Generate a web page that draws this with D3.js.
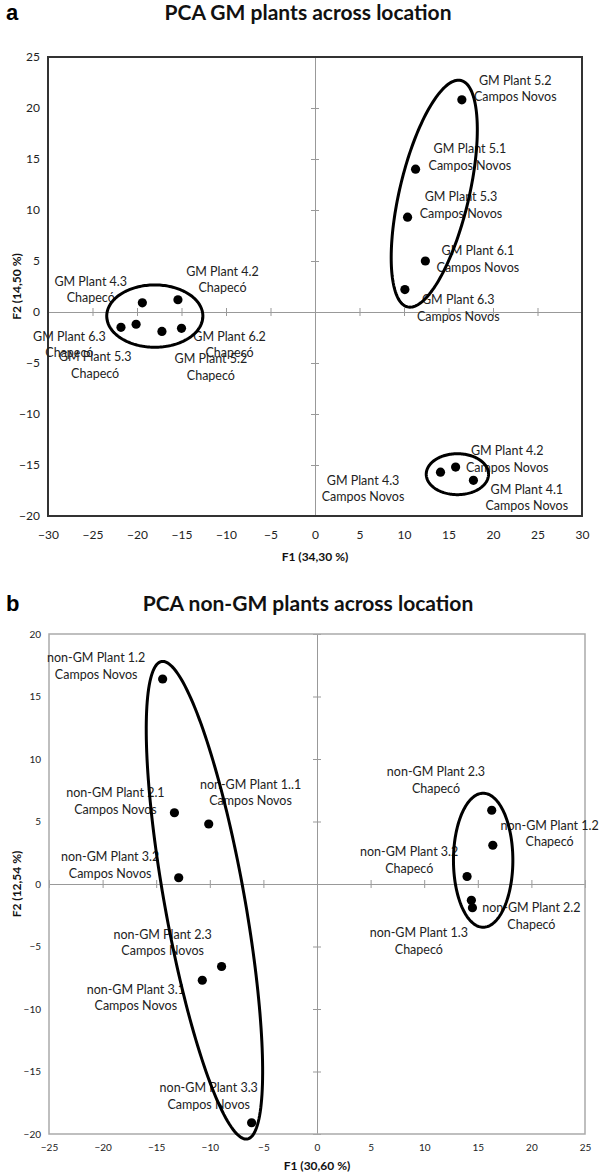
<!DOCTYPE html>
<html>
<head>
<meta charset="utf-8">
<script src="https://cdn.jsdelivr.net/npm/d3@7"></script>
<style>
  body { margin: 0; background: #fff; }
  svg { display: block; }
</style>
</head>
<body>
<svg id="chart" width="600" height="1174"></svg>
<script>
// ---- panel a : GM plants ----
const gmNames = [
  "GM Plant 5.2", "GM Plant 5.1", "GM Plant 5.3", "GM Plant 6.1", "GM Plant 6.3",
  "GM Plant 4.2", "GM Plant 4.1", "GM Plant 4.3",
  "GM Plant 4.3", "GM Plant 4.2", "GM Plant 6.3", "GM Plant 5.3", "GM Plant 6.2", "GM Plant 5.2"
];
const gmSites = [
  "Campos Novos", "Campos Novos", "Campos Novos", "Campos Novos", "Campos Novos",
  "Campos Novos", "Campos Novos", "Campos Novos",
  "Chapecó", "Chapecó", "Chapecó", "Chapecó", "Chapecó", "Chapecó"
];
const gmF1 = [16.5, 11.3, 10.4, 12.4, 10.1, 15.8, 17.8, 14.1, -19.4, -15.4, -21.8, -20.1, -17.2, -15.0];
const gmF2 = [20.8, 14.0, 9.3, 5.0, 2.2, -15.2, -16.5, -15.7, 0.9, 1.2, -1.5, -1.2, -1.9, -1.6];
// where Excel put each data label (data units)
const gmLabF1 = [22.5, 17.4, 16.4, 18.3, 16.1, 21.6, 23.8, 5.4, -25.2, -10.4, -27.6, -24.7, -9.6, -11.7];
const gmLabF2 = [22.7, 16.0, 11.3, 6.0, 1.2, -13.6, -17.4, -16.5, 3.0, 4.0, -2.4, -4.4, -2.4, -4.6];
// hand drawn groups: centre, end of long axis, half short axis (F1 units)
const gmGroups = [
  { cx: 13.4, cy: 11.6, ex: 16.4, ey: 22.7, minor: 3.9 },
  { cx: -18.0, cy: -0.4, ex: -12.6, ey: -0.4, minor: 3.5 },
  { cx: 16.0, cy: -15.9, ex: 19.5, ey: -15.9, minor: 2.3 }
];
const gmXTicks = [-30, -25, -20, -15, -10, -5, 0, 5, 10, 15, 20, 25, 30];
const gmYTicks = [-20, -15, -10, -5, 0, 5, 10, 15, 20, 25];

// ---- panel b : non-GM plants ----
const ngNames = [
  "non-GM Plant 1.2", "non-GM Plant 2.1", "non-GM Plant 1..1", "non-GM Plant 3.2",
  "non-GM Plant 2.3", "non-GM Plant 3.1", "non-GM Plant 3.3",
  "non-GM Plant 2.3", "non-GM Plant 1.2", "non-GM Plant 3.2", "non-GM Plant 1.3", "non-GM Plant 2.2"
];
const ngSites = [
  "Campos Novos", "Campos Novos", "Campos Novos", "Campos Novos",
  "Campos Novos", "Campos Novos", "Campos Novos",
  "Chapecó", "Chapecó", "Chapecó", "Chapecó", "Chapecó"
];
const ngF1 = [-14.4, -13.3, -10.1, -12.9, -8.9, -10.7, -6.1, 16.3, 16.4, 14.0, 14.4, 14.5];
const ngF2 = [16.4, 5.7, 4.8, 0.5, -6.6, -7.7, -19.1, 5.9, 3.1, 0.6, -1.3, -1.9];
const ngLabF1 = [-20.6, -18.8, -6.2, -19.3, -14.4, -16.9, -10.1, 11.1, 21.7, 8.6, 9.5, 20.0];
const ngLabF2 = [18.1, 7.3, 8.0, 2.2, -4.0, -8.4, -16.3, 9.0, 4.7, 2.6, -3.9, -1.9];
const ngGroups = [
  { cx: -10.5, cy: -1.3, ex: -14.5, ey: 17.8, minor: 3.73 },
  { cx: 15.5, cy: 1.9, ex: 15.5, ey: 7.26, minor: 2.77 }
];
const ngXTicks = [-25, -20, -15, -10, -5, 0, 5, 10, 15, 20, 25];
const ngYTicks = [-20, -15, -10, -5, 0, 5, 10, 15, 20];

const svg = d3.select("#chart");
const labelFont = "Lato, 'Open Sans', sans-serif";

function drawPanel(opt) {
  const x = d3.scaleLinear().domain(opt.xDomain).range([opt.left, opt.right]);
  const y = d3.scaleLinear().domain(opt.yDomain).range([opt.bottom, opt.top]);
  const g = svg.append("g");

  // panel letter + title
  g.append("text").attr("x", 6).attr("y", opt.titleY)
    .attr("font-family", "Arial, 'Liberation Sans', sans-serif")
    .attr("font-weight", "bold").attr("font-size", 22).text(opt.letter);
  g.append("text").attr("x", 308).attr("y", opt.titleY)
    .attr("text-anchor", "middle").attr("font-family", labelFont)
    .attr("font-weight", "bold").attr("font-size", 21).attr("fill", "#111")
    .text(opt.title);

  // zero lines with cross ticks
  const zx = g.append("g").attr("transform", `translate(0,${y(0)})`);
  zx.append("g").call(d3.axisBottom(x).tickValues(opt.xTicks).tickSize(4).tickFormat(""));
  zx.append("g").call(d3.axisTop(x).tickValues(opt.xTicks).tickSize(4).tickFormat(""));
  const zy = g.append("g").attr("transform", `translate(${x(0)},0)`);
  zy.append("g").call(d3.axisLeft(y).tickValues(opt.yTicks).tickSize(4).tickFormat(""));
  zy.append("g").call(d3.axisRight(y).tickValues(opt.yTicks).tickSize(4).tickFormat(""));
  g.selectAll(".domain, .tick line").attr("stroke", "#999").attr("stroke-width", 1);

  // frame
  g.append("rect")
    .attr("x", opt.left).attr("y", opt.top)
    .attr("width", opt.right - opt.left).attr("height", opt.bottom - opt.top)
    .attr("fill", "none").attr("stroke", opt.frameColor).attr("stroke-width", opt.frameWidth);

  // tick labels along the frame
  const ax = g.append("g").attr("transform", `translate(0,${opt.bottom})`)
    .call(d3.axisBottom(x).tickValues(opt.xTicks).tickSize(0).tickPadding(opt.tickPad));
  const ay = g.append("g").attr("transform", `translate(${opt.left},0)`)
    .call(d3.axisLeft(y).tickValues(opt.yTicks).tickSize(0).tickPadding(8));
  [ax, ay].forEach(a => {
    a.select(".domain").remove();
    a.selectAll("text").attr("font-family", labelFont)
      .attr("font-size", opt.tickFont).attr("fill", "#222");
  });

  // axis titles
  g.append("text").attr("x", x(0)).attr("y", opt.bottom + opt.xTitleGap)
    .attr("text-anchor", "middle").attr("font-family", labelFont)
    .attr("font-weight", "bold").attr("font-size", 12).attr("fill", "#111").text(opt.xTitle);
  g.append("text")
    .attr("transform", `translate(21,${(opt.top + opt.bottom) / 2}) rotate(-90)`)
    .attr("text-anchor", "middle").attr("font-family", labelFont)
    .attr("font-weight", "bold").attr("font-size", 12).attr("fill", "#111").text(opt.yTitle);

  // data labels
  const labels = g.append("g").attr("font-family", labelFont)
    .attr("font-size", 12.5).attr("fill", "#222").attr("text-anchor", "middle");
  opt.names.forEach((name, i) => {
    const t = labels.append("text")
      .attr("x", x(opt.labF1[i])).attr("y", y(opt.labF2[i]) + 4.5);
    t.append("tspan").text(name);
    t.append("tspan").attr("x", x(opt.labF1[i])).attr("dy", 16.5).text(opt.sites[i]);
  });

  // points
  g.append("g").selectAll("circle")
    .data(d3.range(opt.f1.length))
    .join("circle")
    .attr("cx", i => x(opt.f1[i]))
    .attr("cy", i => y(opt.f2[i]))
    .attr("r", 4.6)
    .attr("fill", "#000");

  // group ellipses
  const line = d3.line().curve(d3.curveLinearClosed);
  g.append("g").selectAll("path")
    .data(opt.groups)
    .join("path")
    .attr("d", e => {
      const c = [x(e.cx), y(e.cy)];
      const u = [x(e.ex) - c[0], y(e.ey) - c[1]];
      const len = Math.hypot(u[0], u[1]);
      const b = Math.abs(x(e.minor) - x(0));
      const v = [-u[1] / len * b, u[0] / len * b];
      const pts = d3.range(0, 2 * Math.PI, Math.PI / 90).map(t => [
        c[0] + Math.cos(t) * u[0] + Math.sin(t) * v[0],
        c[1] + Math.cos(t) * u[1] + Math.sin(t) * v[1]
      ]);
      return line(pts);
    })
    .attr("fill", "none").attr("stroke", "#000").attr("stroke-width", 3);
}

drawPanel({
  letter: "a", title: "PCA GM plants across location", titleY: 20,
  xDomain: [-30, 30], yDomain: [-20, 25],
  left: 48, right: 582, top: 57, bottom: 516,
  xTicks: gmXTicks, yTicks: gmYTicks,
  frameColor: "#333", frameWidth: 2, tickFont: 12, tickPad: 14,
  xTitle: "F1 (34,30 %)", yTitle: "F2 (14,50 %)", xTitleGap: 45,
  names: gmNames, sites: gmSites, f1: gmF1, f2: gmF2,
  labF1: gmLabF1, labF2: gmLabF2, groups: gmGroups
});

drawPanel({
  letter: "b", title: "PCA non-GM plants across location", titleY: 611,
  xDomain: [-25, 25], yDomain: [-20, 20],
  left: 49, right: 585, top: 634, bottom: 1134,
  xTicks: ngXTicks, yTicks: ngYTicks,
  frameColor: "#aaa", frameWidth: 1.5, tickFont: 10, tickPad: 10,
  xTitle: "F1 (30,60 %)", yTitle: "F2 (12,54 %)", xTitleGap: 36,
  names: ngNames, sites: ngSites, f1: ngF1, f2: ngF2,
  labF1: ngLabF1, labF2: ngLabF2, groups: ngGroups
});
</script>
</body>
</html>
